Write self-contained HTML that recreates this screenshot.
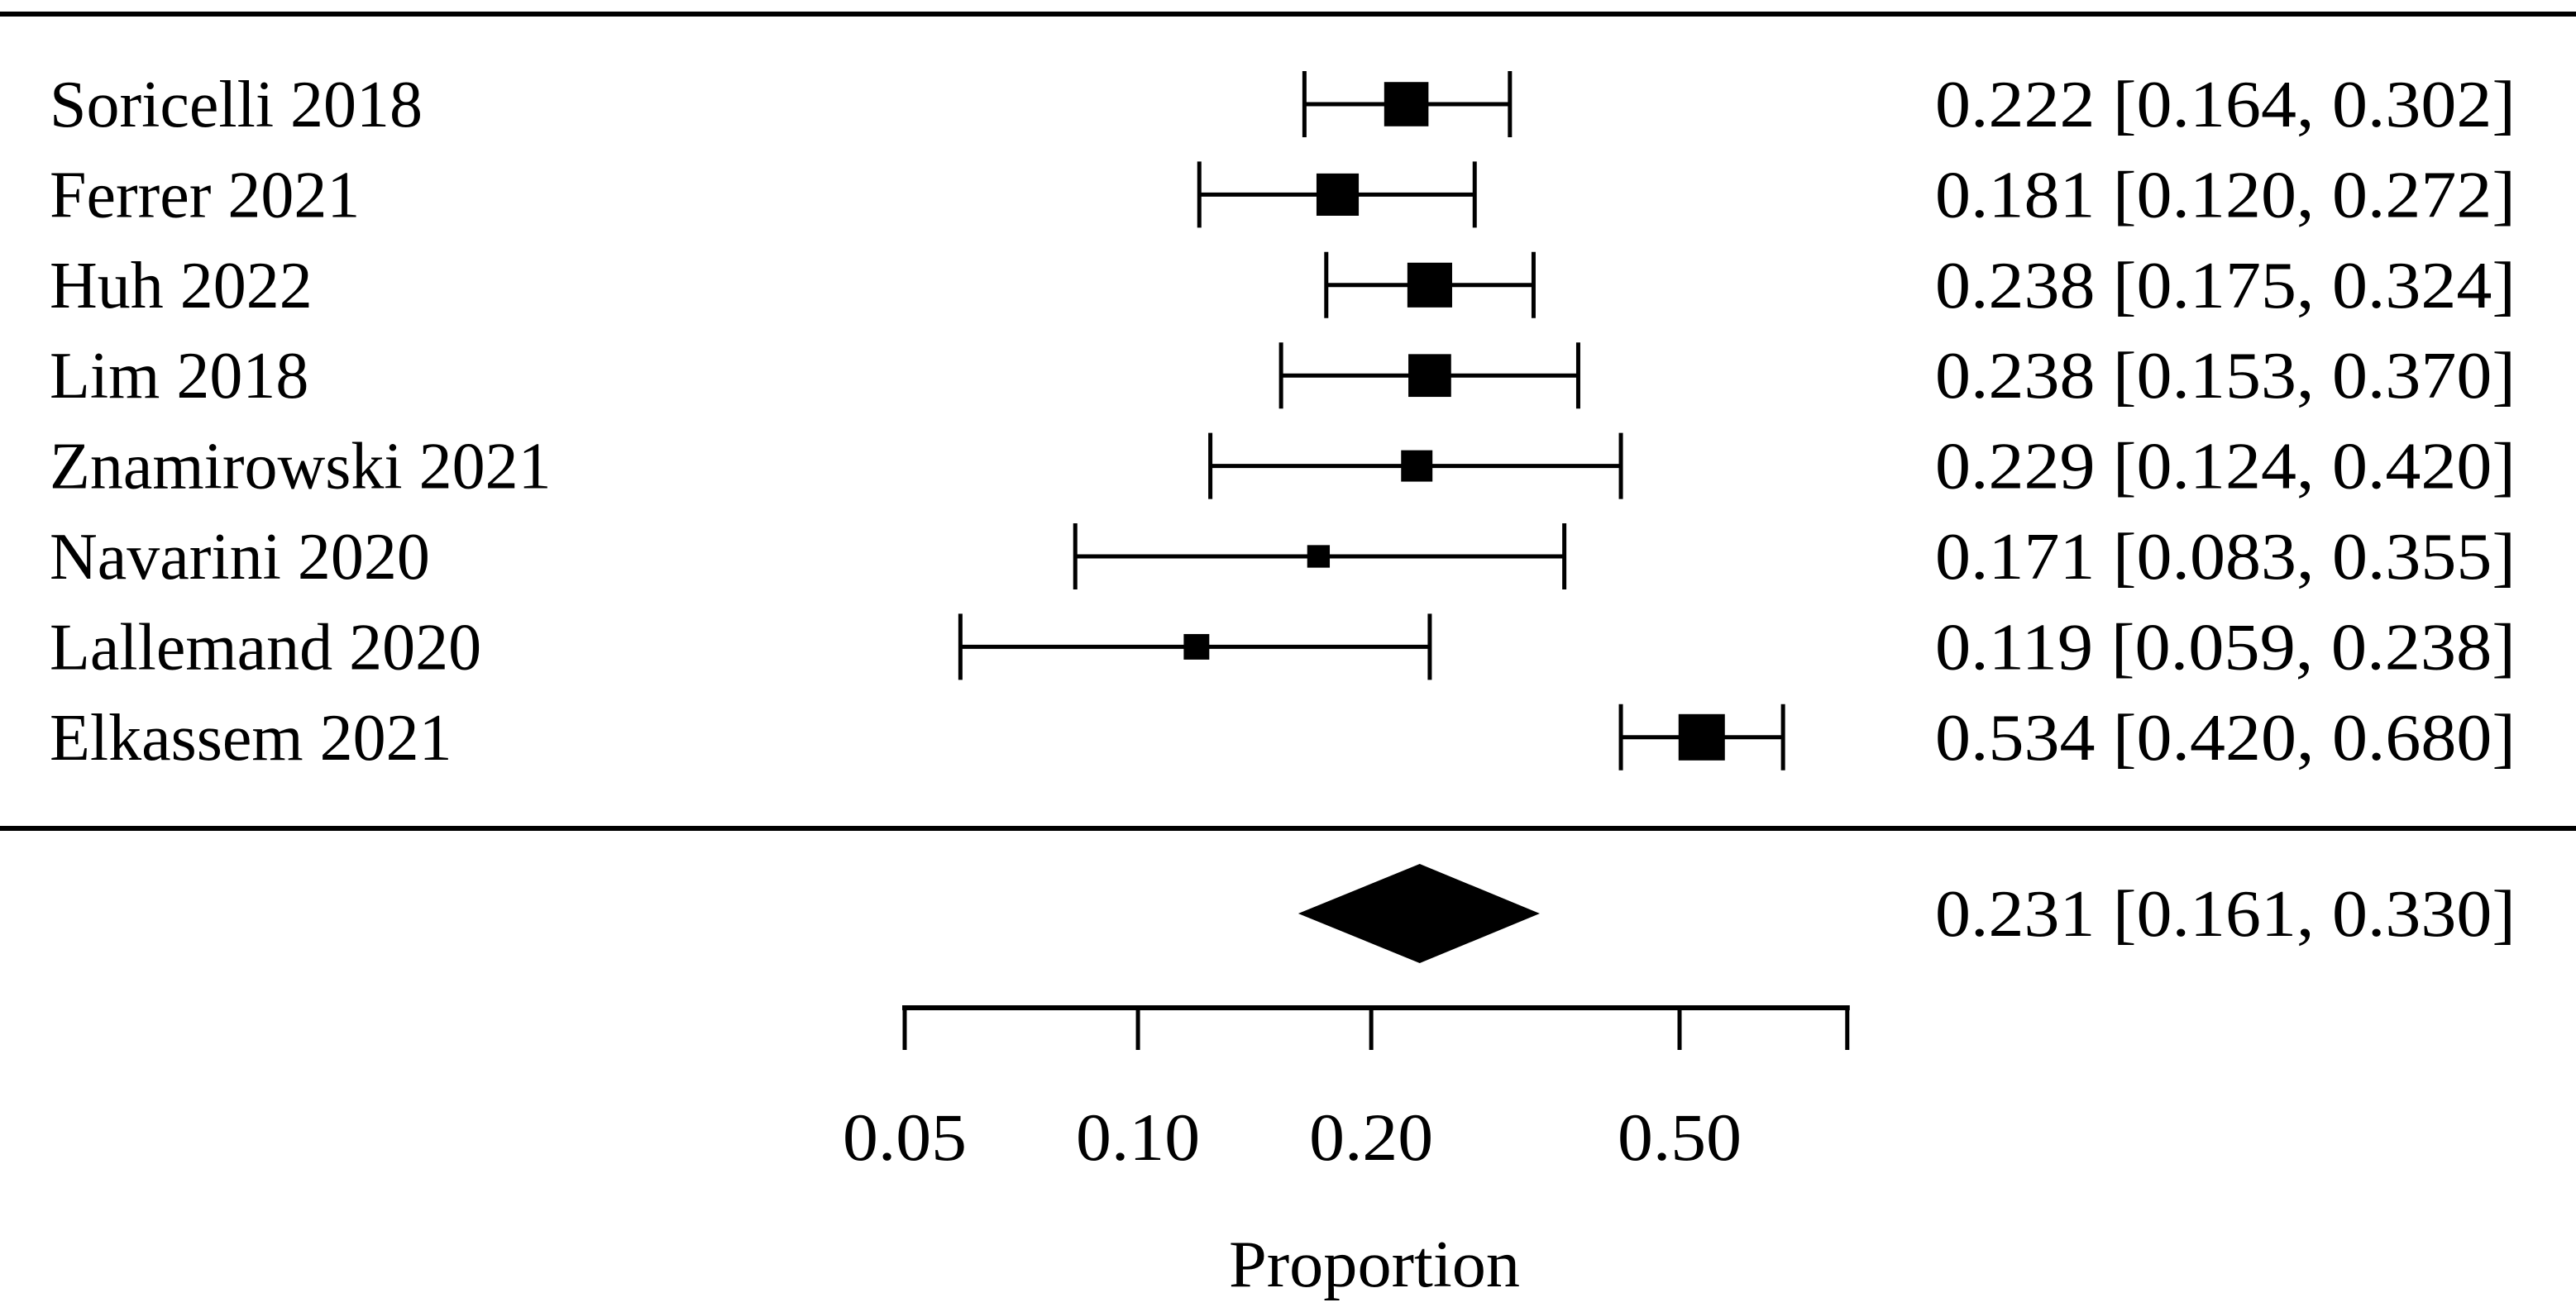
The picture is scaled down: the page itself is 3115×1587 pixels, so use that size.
<!DOCTYPE html>
<html><head><meta charset="utf-8"><style>
html,body{margin:0;padding:0;background:#fff}
svg{display:block}
text{font-family:"Liberation Serif",serif;fill:#000}
</style></head><body>
<svg id="chart" width="3115" height="1587" viewBox="0 0 3115 1587" xmlns="http://www.w3.org/2000/svg">
<line x1="0" y1="17" x2="3115" y2="17" stroke="#000" stroke-width="6"/>
<line x1="0" y1="1002" x2="3115" y2="1002" stroke="#000" stroke-width="6"/>
<g id="rows"></g>
<g id="axis"></g>
<text x="1662" y="1556" font-size="80" text-anchor="middle" textLength="352" lengthAdjust="spacingAndGlyphs">Proportion</text>
</svg>
<script>
const studies = ["Soricelli 2018","Ferrer 2021","Huh 2022","Lim 2018","Znamirowski 2021","Navarini 2020","Lallemand 2020","Elkassem 2021"];
const estimates = [0.222,0.181,0.238,0.238,0.229,0.171,0.119,0.534];
const lowers = [0.164,0.120,0.175,0.153,0.124,0.083,0.059,0.420];
const uppers = [0.302,0.272,0.324,0.370,0.420,0.355,0.238,0.680];
const weights = [14.2,12.5,14.6,12.9,5.2,1.6,2.6,16.0];
const pooled = [0.231,0.161,0.330];
const ticks = [0.05,0.10,0.20,0.50];
const tickLabels = ["0.05","0.10","0.20","0.50"];
const axisMax = 0.823;

const NS="http://www.w3.org/2000/svg";
const x0=1094, pxPerDec=937;
function xs(v){return x0+pxPerDec*Math.log10(v/0.05);}
function ys(i){return 126+i*109.4;}
function mk(tag,attrs,parent){const e=document.createElementNS(NS,tag);for(const k in attrs)e.setAttribute(k,attrs[k]);parent.appendChild(e);return e;}
const rows=document.getElementById('rows');
const f=v=>v.toFixed(3);
studies.forEach((s,i)=>{
  const y=ys(i);
  const g=mk('g',{},rows);
  
  
  const lab=mk('text',{x:60,y:y+27,'font-size':80},g);
  
  
  lab.textContent=s;
  const ci=mk('line',{x1:xs(lowers[i]),x2:xs(uppers[i]),y1:y,y2:y,stroke:'#000','stroke-width':5},g);
  
  
  [lowers[i],uppers[i]].forEach(v=>{
    const c=mk('line',{x1:xs(v),x2:xs(v),y1:y-40,y2:y+40,stroke:'#000','stroke-width':5},g);
    
    
  });
  const sz=14+Math.sqrt(weights[i])*10.5;
  const sq=mk('rect',{x:xs(estimates[i])-sz/2,y:y-sz/2,width:sz,height:sz,fill:'#000'},g);
  
  
  const t=mk('text',{x:2340,y:y+27,'font-size':80,textLength:702,lengthAdjust:'spacingAndGlyphs'},g);
  
  
  t.textContent=f(estimates[i])+" ["+f(lowers[i])+", "+f(uppers[i])+"]";
});
const yd=1105;
const d=mk('polygon',{points:`${xs(pooled[1])},${yd} ${xs(pooled[0])},${yd-60} ${xs(pooled[2])},${yd} ${xs(pooled[0])},${yd+60}`,fill:'#000'},rows);


const pt=mk('text',{x:2340,y:yd+27,'font-size':80,textLength:702,lengthAdjust:'spacingAndGlyphs'},rows);


pt.textContent=f(pooled[0])+" ["+f(pooled[1])+", "+f(pooled[2])+"]";
const ax=document.getElementById('axis');
const al=mk('line',{x1:xs(ticks[0])-3,x2:xs(axisMax)+3,y1:1219,y2:1219,stroke:'#000','stroke-width':6},ax);


ticks.concat([axisMax]).forEach(v=>{
  const tk=mk('line',{x1:xs(v),x2:xs(v),y1:1217,y2:1270,stroke:'#000','stroke-width':5},ax);
  
  
});
ticks.forEach((v,i)=>{
  const tl=mk('text',{x:xs(v),y:1403,'font-size':82,'text-anchor':'middle',textLength:150,lengthAdjust:'spacingAndGlyphs'},ax);
  
  
  tl.textContent=tickLabels[i];
});
</script>
</body></html>
